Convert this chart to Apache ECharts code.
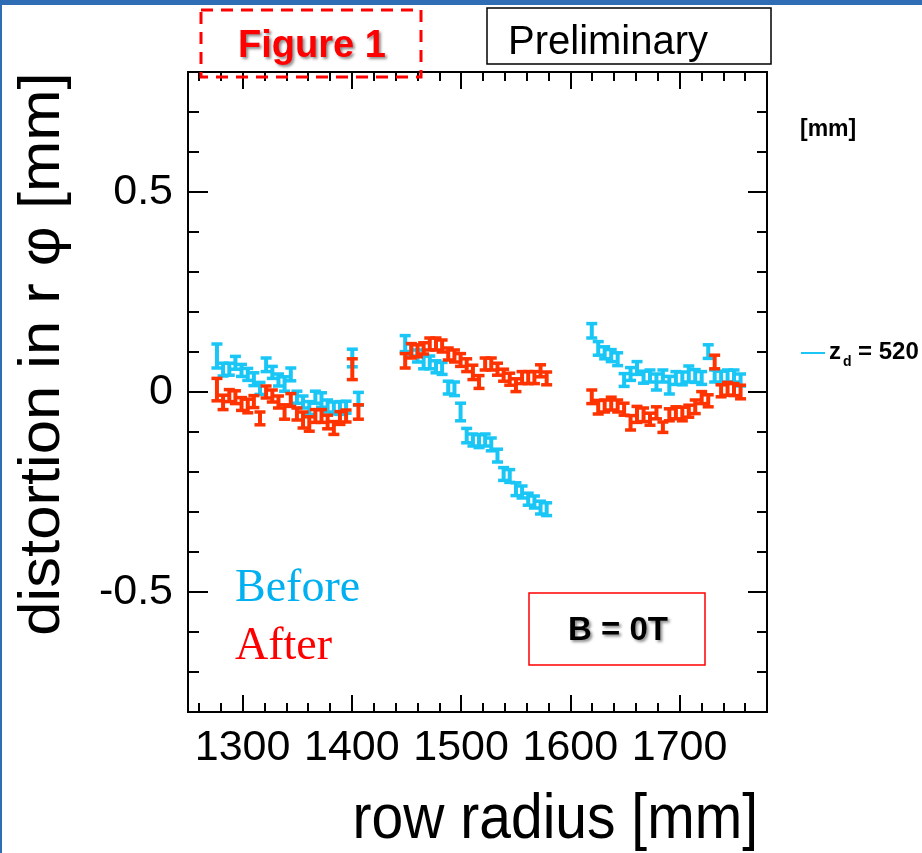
<!DOCTYPE html>
<html>
<head>
<meta charset="utf-8">
<title>distortion in r φ vs row radius</title>
<script src="https://cdn.jsdelivr.net/npm/echarts@6/dist/echarts.min.js"></script>
<style>
  html, body { margin: 0; padding: 0; background: #fff; }
  #chart { width: 922px; height: 853px; }
</style>
</head>
<body>
<div id="chart"></div>
<script>
// row radius [mm] of each pad row (three modules)
const radius = [
  1276.5, 1282.1, 1287.8, 1293.4, 1299.0, 1304.7, 1310.3, 1315.9, 1321.5, 1327.2, 1332.8, 1338.4,
  1344.1, 1349.7, 1355.3, 1361.0, 1366.6, 1372.2, 1377.8, 1383.5, 1389.1, 1394.7, 1400.4, 1406.0,
  1448.8, 1454.4, 1460.1, 1465.7, 1471.3, 1477.0, 1482.6, 1488.2, 1493.9, 1499.5, 1505.1, 1510.8,
  1516.4, 1522.0, 1527.6, 1533.3, 1538.9, 1544.5, 1550.2, 1555.8, 1561.4, 1567.1, 1572.7, 1578.3,
  1619.6, 1625.5, 1631.4, 1637.4, 1643.3, 1649.2, 1655.1, 1661.0, 1667.0, 1672.9, 1678.8, 1684.7,
  1690.6, 1696.6, 1702.5, 1708.4, 1714.3, 1720.2, 1726.2, 1732.1, 1738.0, 1743.9, 1749.8, 1755.8
];

// distortion in r-phi [mm], before correction
const before = [
  0.090, 0.056, 0.057, 0.073, 0.054, 0.044, 0.032, 0.009, 0.068, 0.049, 0.030, 0.020,
  0.044, -0.013, -0.025, -0.040, -0.013, -0.020, -0.035, -0.040, -0.040, -0.038, 0.085, -0.017,
  0.121, 0.105, 0.090, 0.074, 0.074, 0.063, 0.059, 0.011, 0.008, -0.050, -0.109, -0.120,
  -0.123, -0.120, -0.131, -0.159, -0.205, -0.210, -0.243, -0.250, -0.268, -0.275, -0.289, -0.293,
  0.153, 0.109, 0.098, 0.091, 0.082, 0.030, 0.045, 0.060, 0.037, 0.040, 0.025, 0.040,
  0.017, 0.035, 0.034, 0.045, 0.040, 0.035, 0.101, 0.040, 0.036, 0.040, 0.040, 0.030
];
const errBefore = [
  0.030, 0.016, 0.015, 0.016, 0.015, 0.015, 0.016, 0.015, 0.017, 0.015, 0.015, 0.018,
  0.016, 0.015, 0.015, 0.016, 0.015, 0.018, 0.015, 0.015, 0.016, 0.015, 0.022, 0.016,
  0.020, 0.015, 0.015, 0.016, 0.016, 0.015, 0.015, 0.016, 0.017, 0.022, 0.018, 0.015,
  0.016, 0.015, 0.016, 0.016, 0.016, 0.016, 0.016, 0.015, 0.015, 0.015, 0.016, 0.016,
  0.018, 0.017, 0.015, 0.015, 0.016, 0.016, 0.016, 0.016, 0.015, 0.015, 0.020, 0.015,
  0.022, 0.016, 0.016, 0.020, 0.016, 0.016, 0.017, 0.015, 0.016, 0.015, 0.015, 0.015
];

// distortion in r-phi [mm], after correction
const after = [
  0.006, -0.026, -0.009, -0.013, -0.030, -0.035, -0.024, -0.066, 0.000, -0.010, -0.025, -0.050,
  -0.020, -0.055, -0.070, -0.080, -0.060, -0.060, -0.075, -0.090, -0.065, -0.060, 0.057, -0.050,
  0.078, 0.103, 0.103, 0.109, 0.120, 0.120, 0.115, 0.095, 0.090, 0.080, 0.067, 0.049,
  0.025, 0.070, 0.070, 0.057, 0.042, 0.032, 0.017, 0.036, 0.036, 0.036, 0.053, 0.034,
  -0.012, -0.038, -0.035, -0.029, -0.035, -0.043, -0.077, -0.056, -0.057, -0.068, -0.052, -0.088,
  -0.057, -0.052, -0.055, -0.048, -0.037, -0.014, -0.022, 0.075, 0.003, 0.008, 0.006, 0.000
];
const errAfter = [
  0.028, 0.018, 0.015, 0.016, 0.016, 0.017, 0.015, 0.016, 0.015, 0.015, 0.015, 0.018,
  0.016, 0.015, 0.020, 0.018, 0.016, 0.016, 0.017, 0.016, 0.016, 0.015, 0.026, 0.018,
  0.018, 0.018, 0.015, 0.014, 0.015, 0.015, 0.015, 0.015, 0.015, 0.016, 0.016, 0.018,
  0.016, 0.015, 0.015, 0.015, 0.015, 0.015, 0.016, 0.015, 0.015, 0.015, 0.015, 0.016,
  0.017, 0.017, 0.015, 0.016, 0.015, 0.015, 0.018, 0.020, 0.017, 0.015, 0.015, 0.013,
  0.015, 0.015, 0.017, 0.015, 0.017, 0.015, 0.015, 0.017, 0.015, 0.016, 0.015, 0.017
];

// axis ticks
const xMajor = [1300, 1400, 1500, 1600, 1700];
const xMinor = [1260, 1280, 1320, 1340, 1360, 1380, 1420, 1440, 1460, 1480, 1520, 1540,
  1560, 1580, 1620, 1640, 1660, 1680, 1720, 1740, 1760, 1780];
const yMajor = [-0.5, 0, 0.5];
const yMinor = [-0.7, -0.6, -0.4, -0.3, -0.2, -0.1, 0.1, 0.2, 0.3, 0.4, 0.6, 0.7];

const CYAN = '#19c6f5';
const RED = '#ff3300';
const SANS = '"Liberation Sans", Arial, Helvetica, sans-serif';
const SERIF = '"Liberation Serif", "Times New Roman", serif';

const chart = echarts.init(document.getElementById('chart'));

function errorBars(color) {
  return function (params, api) {
    const x = api.value(0);
    const y = api.value(1);
    const e = api.value(2);
    const hi = api.coord([x, y + e]);
    const lo = api.coord([x, y - e]);
    const hw = 5.5;
    const stem = { stroke: color, lineWidth: 4 };
    const cap = { stroke: color, lineWidth: 3.5 };
    return {
      type: 'group',
      children: [
        { type: 'line', shape: { x1: hi[0], y1: hi[1], x2: lo[0], y2: lo[1] }, style: stem },
        { type: 'line', shape: { x1: hi[0] - hw, y1: hi[1], x2: hi[0] + hw, y2: hi[1] }, style: cap },
        { type: 'line', shape: { x1: lo[0] - hw, y1: lo[1], x2: lo[0] + hw, y2: lo[1] }, style: cap },
      ],
    };
  };
}

function xAxis(position, ticks, len, labels) {
  return {
    type: 'value',
    position,
    min: 1250,
    max: 1780,
    axisLine: { show: true, onZero: false, lineStyle: { color: '#000', width: 2 } },
    axisTick: { show: true, inside: true, length: len, customValues: ticks, lineStyle: { color: '#000', width: 2 } },
    axisLabel: labels
      ? {
          show: true, customValues: xMajor, fontSize: 43, fontFamily: SANS, color: '#000', margin: 15,
          formatter: (v) => String(v),
        }
      : { show: false },
    splitLine: { show: false },
  };
}

function yAxis(position, ticks, len, labels) {
  return {
    type: 'value',
    position,
    min: -0.8,
    max: 0.8,
    axisLine: { show: true, onZero: false, lineStyle: { color: '#000', width: 2 } },
    axisTick: { show: true, inside: true, length: len, customValues: ticks, lineStyle: { color: '#000', width: 2 } },
    axisLabel: labels
      ? {
          show: true, customValues: yMajor, fontSize: 43, fontFamily: SANS, color: '#000', margin: 15,
          formatter: (v) => String(v),
        }
      : { show: false },
    splitLine: { show: false },
  };
}

chart.setOption({
  backgroundColor: '#fff',
  animation: false,
  grid: {
    left: 188,
    top: 72,
    width: 579,
    height: 640,
    outerBoundsMode: 'none',
  },
  xAxis: [
    xAxis('bottom', xMajor, 17, true),
    xAxis('bottom', xMinor, 9, false),
    xAxis('top', xMajor, 17, false),
    xAxis('top', xMinor, 9, false),
  ],
  yAxis: [
    yAxis('left', yMajor, 20, true),
    yAxis('left', yMinor, 11, false),
    yAxis('right', yMajor, 19, false),
    yAxis('right', yMinor, 10, false),
  ],
  series: [
    {
      name: 'Before',
      type: 'custom',
      xAxisIndex: 0,
      yAxisIndex: 0,
      silent: true,
      renderItem: errorBars(CYAN),
      data: radius.map((r, i) => [r, before[i], errBefore[i]]),
      z: 3,
    },
    {
      name: 'After',
      type: 'custom',
      xAxisIndex: 0,
      yAxisIndex: 0,
      silent: true,
      renderItem: errorBars(RED),
      data: radius.map((r, i) => [r, after[i], errAfter[i]]),
      z: 4,
    },
  ],
  graphic: {
    elements: [
      // slide frame
      { type: 'rect', shape: { x: 0, y: 0, width: 922, height: 5 }, style: { fill: '#2e6db4' }, z: 100 },
      { type: 'rect', shape: { x: 0, y: 0, width: 2, height: 853 }, style: { fill: '#2e6db4' }, z: 100 },
      // axis titles
      {
        type: 'text', x: 43, y: 354, rotation: Math.PI / 2, scaleX: 1.08, z: 100,
        style: {
          text: 'distortion in r φ [mm]', fontSize: 57, fontFamily: SANS, fill: '#000',
          align: 'center', verticalAlign: 'middle', textAlign: 'center', textVerticalAlign: 'middle',
        },
      },
      {
        type: 'text', x: 758, y: 821, scaleY: 1.1, z: 100,
        style: {
          text: 'row radius [mm]', fontSize: 57, fontFamily: SANS, fill: '#000',
          align: 'right', verticalAlign: 'middle', textAlign: 'right', textVerticalAlign: 'middle',
        },
      },
      // Figure 1 label
      {
        type: 'rect', z: 100,
        shape: { x: 201, y: 10, width: 220, height: 67 },
        style: { fill: null, stroke: '#ff0000', lineWidth: 3, lineDash: [12, 8] },
      },
      {
        type: 'text', x: 312, y: 47, z: 101,
        style: {
          text: 'Figure 1', fontSize: 38, fontWeight: 'bold', fontFamily: SANS, fill: '#ff0000',
          align: 'center', verticalAlign: 'middle', textAlign: 'center', textVerticalAlign: 'middle',
          textShadowColor: 'rgba(0,0,0,0.45)', textShadowBlur: 3, textShadowOffsetX: 2, textShadowOffsetY: 2,
        },
      },
      // Preliminary box
      {
        type: 'rect', z: 100,
        shape: { x: 487, y: 8, width: 284, height: 56 },
        style: { fill: '#fff', stroke: '#000', lineWidth: 1.5 },
      },
      {
        type: 'text', x: 508, y: 43, z: 101,
        style: {
          text: 'Preliminary', fontSize: 40, fontFamily: SANS, fill: '#000',
          align: 'left', verticalAlign: 'middle', textAlign: 'left', textVerticalAlign: 'middle',
        },
      },
      // legend remnants on the right
      {
        type: 'text', x: 800, y: 130, z: 100,
        style: {
          text: '[mm]', fontSize: 23, fontWeight: 'bold', fontFamily: SANS, fill: '#000',
          align: 'left', verticalAlign: 'middle', textAlign: 'left', textVerticalAlign: 'middle',
        },
      },
      {
        type: 'line', z: 100,
        shape: { x1: 801, y1: 353, x2: 825, y2: 353 },
        style: { stroke: CYAN, lineWidth: 2 },
      },
      {
        type: 'text', x: 829, y: 352, z: 100,
        style: {
          text: 'z', fontSize: 24, fontWeight: 'bold', fontFamily: SANS, fill: '#000',
          align: 'left', verticalAlign: 'middle', textAlign: 'left', textVerticalAlign: 'middle',
        },
      },
      {
        type: 'text', x: 843, y: 362, z: 100,
        style: {
          text: 'd', fontSize: 14, fontWeight: 'bold', fontFamily: SANS, fill: '#000',
          align: 'left', verticalAlign: 'middle', textAlign: 'left', textVerticalAlign: 'middle',
        },
      },
      {
        type: 'text', x: 858, y: 352, z: 100,
        style: {
          text: '= 520', fontSize: 24, fontWeight: 'bold', fontFamily: SANS, fill: '#000',
          align: 'left', verticalAlign: 'middle', textAlign: 'left', textVerticalAlign: 'middle',
        },
      },
      // Before / After
      {
        type: 'text', x: 235, y: 589, z: 100,
        style: {
          text: 'Before', fontSize: 46, fontFamily: SERIF, fill: '#00b0f0',
          align: 'left', verticalAlign: 'middle', textAlign: 'left', textVerticalAlign: 'middle',
        },
      },
      {
        type: 'text', x: 235, y: 647, z: 100,
        style: {
          text: 'After', fontSize: 46, fontFamily: SERIF, fill: '#ff0000',
          align: 'left', verticalAlign: 'middle', textAlign: 'left', textVerticalAlign: 'middle',
        },
      },
      // B = 0T box
      {
        type: 'rect', z: 100,
        shape: { x: 529, y: 593, width: 176, height: 72 },
        style: { fill: '#fff', stroke: '#ff0000', lineWidth: 1.5 },
      },
      {
        type: 'text', x: 618, y: 631, z: 101,
        style: {
          text: 'B = 0T', fontSize: 33, fontWeight: 'bold', fontFamily: SANS, fill: '#000',
          align: 'center', verticalAlign: 'middle', textAlign: 'center', textVerticalAlign: 'middle',
          textShadowColor: 'rgba(0,0,0,0.45)', textShadowBlur: 3, textShadowOffsetX: 2, textShadowOffsetY: 2,
        },
      },
    ],
  },
});

window.addEventListener('resize', () => chart.resize());
</script>
</body>
</html>
